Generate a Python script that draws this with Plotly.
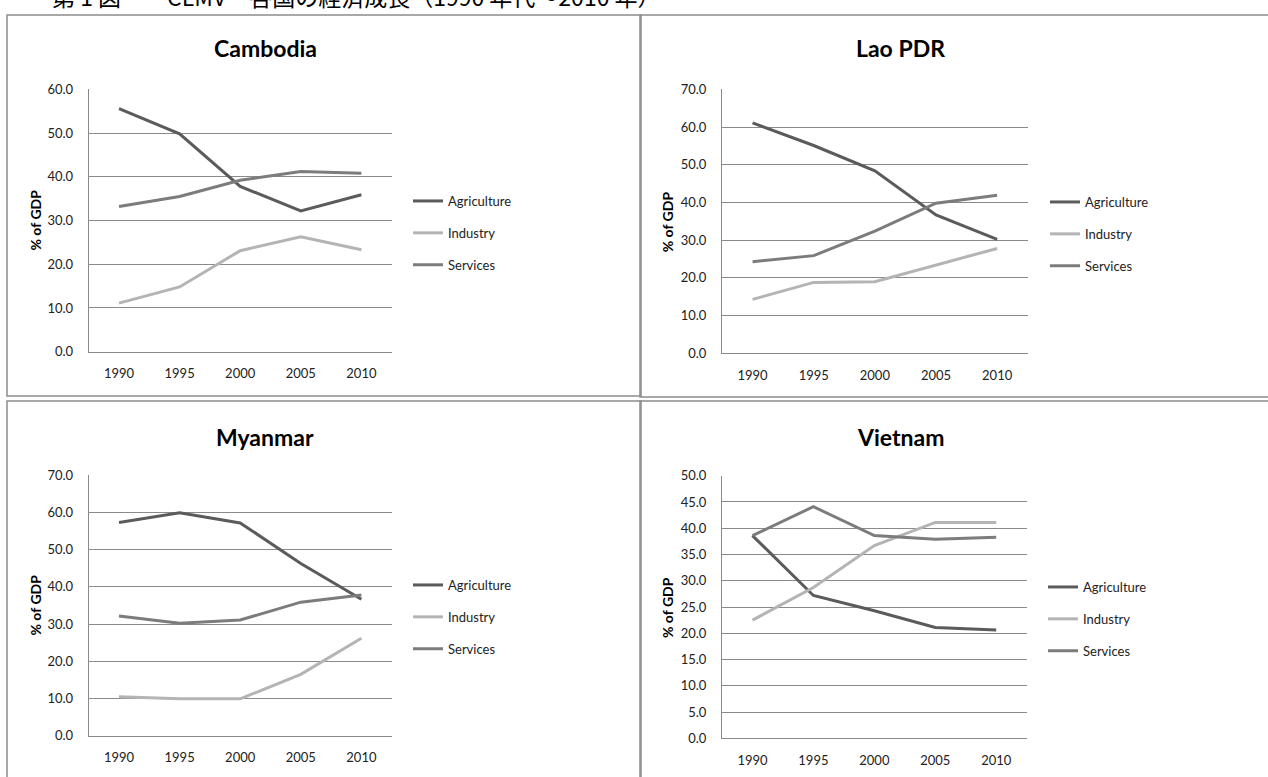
import plotly.graph_objects as go

W, H = 1268, 777
OFF = 0

years = ["1990", "1995", "2000", "2005", "2010"]
sectors = ["Agriculture", "Industry", "Services"]

countries = ["Cambodia", "Lao PDR", "Myanmar", "Vietnam"]

cambodia_agri = [55.6, 49.8, 37.8, 32.2, 35.9]
cambodia_ind = [11.1, 14.8, 23.1, 26.3, 23.3]
cambodia_serv = [33.2, 35.5, 39.2, 41.2, 40.8]

lao_agri = [61.1, 55.1, 48.4, 36.7, 30.2]
lao_ind = [14.3, 18.8, 19.0, 23.4, 27.8]
lao_serv = [24.3, 25.9, 32.4, 39.8, 41.9]

myanmar_agri = [57.3, 59.9, 57.2, 46.3, 36.7]
myanmar_ind = [10.5, 9.9, 9.9, 16.5, 26.2]
myanmar_serv = [32.2, 30.2, 31.1, 35.9, 37.8]

vietnam_agri = [38.6, 27.2, 24.3, 21.1, 20.6]
vietnam_ind = [22.5, 28.7, 36.7, 41.1, 41.1]
vietnam_serv = [38.6, 44.1, 38.6, 37.9, 38.3]

y_max = [60, 70, 70, 50]
y_step = [10, 10, 10, 5]

data = [
    [cambodia_agri, cambodia_ind, cambodia_serv],
    [lao_agri, lao_ind, lao_serv],
    [myanmar_agri, myanmar_ind, myanmar_serv],
    [vietnam_agri, vietnam_ind, vietnam_serv],
]

colors = {"Agriculture": "#5b5b5b", "Industry": "#b4b4b4", "Services": "#7c7c7c"}

# screen-pixel layout (left, right, top, bottom of plot areas)
plots = [
    (88.7, 391.7, 89.3, 351.7),
    (722.0, 1027.7, 89.3, 353.3),
    (88.7, 391.7, 475.3, 735.7),
    (722.0, 1026.7, 475.7, 738.3),
]
titles_pos = [(265, 48), (900, 48), (265, 437), (900, 437)]
ytitle_x = [35, 667, 35, 667]
legend_pos = [(408, 186), (1045, 187), (408, 570), (1043, 572)]

def px(x):
    return (x - OFF) / W

def py(y):
    return 1 - (y - OFF) / H

FONT = "Lato"
fig = go.Figure()
layout = dict(
    width=W, height=H,
    margin=dict(l=0, r=0, t=0, b=0, autoexpand=False),
    paper_bgcolor="white", plot_bgcolor="white",
    font=dict(family=FONT, size=13, color="#222222"),
    showlegend=True,
)
annotations = []
shapes = []

for i, c in enumerate(countries):
    k = i + 1
    xa = "x" if k == 1 else f"x{k}"
    ya = "y" if k == 1 else f"y{k}"
    lg = "legend" if k == 1 else f"legend{k}"
    for s, vals in zip(sectors, data[i]):
        fig.add_trace(go.Scatter(
            x=years, y=vals, mode="lines", name=s,
            line=dict(color=colors[s], width=3),
            xaxis=xa, yaxis=ya, legend=lg, legendgroup=f"{c}-{s}",
            hoverinfo="skip",
        ))
    l, r, t, b = plots[i]
    layout["xaxis" if k == 1 else f"xaxis{k}"] = dict(
        domain=[px(l), px(r)], anchor=ya, type="category",
        range=[-0.5, 4.5], showgrid=False, showline=True,
        linecolor="#8a8a8a", linewidth=1, ticks="", zeroline=False,
        tickfont=dict(family=FONT, size=13, color="#222222"),
        ticklabelstandoff=10, fixedrange=True, automargin=False,
    )
    layout["yaxis" if k == 1 else f"yaxis{k}"] = dict(
        domain=[py(b), py(t)], anchor=xa, range=[0, y_max[i]],
        dtick=y_step[i], tick0=0, tickformat=".1f",
        showgrid=True, gridcolor="#8a8a8a", gridwidth=1,
        showline=True, linecolor="#8a8a8a", linewidth=1,
        zeroline=False, ticks="",
        tickfont=dict(family=FONT, size=13, color="#222222"),
        ticklabelstandoff=12, fixedrange=True, automargin=False,
    )
    lx, ly = legend_pos[i]
    layout[lg] = dict(
        x=px(lx), y=py(ly), xanchor="left", yanchor="top",
        bgcolor="rgba(0,0,0,0)", borderwidth=0,
        font=dict(family=FONT, size=13, color="#222222"),
        itemwidth=30, tracegroupgap=12, traceorder="grouped",
    )
    tx, ty = titles_pos[i]
    annotations.append(dict(
        text=f"<b>{c}</b>", x=px(tx), y=py(ty), xref="paper", yref="paper",
        showarrow=False, xanchor="center", yanchor="middle",
        font=dict(family=FONT, size=23, color="#000000"),
    ))
    annotations.append(dict(
        text="<b>% of GDP</b>", x=px(ytitle_x[i]), y=py((t + b) / 2),
        xref="paper", yref="paper", showarrow=False, textangle=-90,
        xanchor="center", yanchor="middle",
        font=dict(family=FONT, size=14, color="#000000"),
    ))

# clipped page caption at top
annotations.append(dict(
    text="第 1 図　　CLMV　各国の経済成長（1990 年代～2010 年）",
    x=px(50), y=py(15), xref="paper", yref="paper", showarrow=False,
    xanchor="left", yanchor="bottom",
    font=dict(family="Noto Sans CJK JP", size=23, color="#000000"),
))

# panel borders
border = dict(color="#8c8c8c", width=1.5)
for (x0, y0, x1, y1) in [(7, 15, 641, 396), (640, 15, 1275, 397),
                         (7, 401, 641, 790), (640, 401, 1275, 790)]:
    shapes.append(dict(type="rect", xref="paper", yref="paper",
                       x0=px(x0), x1=px(x1), y0=py(y1), y1=py(y0),
                       line=border, fillcolor="rgba(0,0,0,0)", layer="below"))

layout["annotations"] = annotations
layout["shapes"] = shapes
fig.update_layout(**layout)
fig.write_html(
    "out.html",
    config={"displayModeBar": False},
    post_script="document.body.style.margin='0';document.body.style.overflow='hidden';",
)
